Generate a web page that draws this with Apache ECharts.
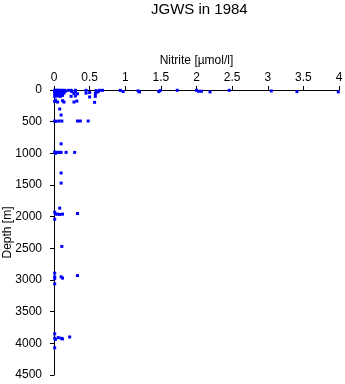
<!DOCTYPE html>
<html>
<head>
<meta charset="utf-8">
<script src="https://cdn.jsdelivr.net/npm/echarts@6/dist/echarts.min.js"></script>
<style>
  html, body { margin: 0; padding: 0; background: #fff; }
  #chart { width: 345px; height: 384px; }
</style>
</head>
<body>
<div id="chart"></div>
<script>
// nitrite [umol/l] and depth [m], paired by index
var nitrite = [
  0.01, 0.03, 0.05, 0.07, 0.09, 0.12, 0.15, 0.2, 0.24, 0.3, 0.45, 0.59, 0.64, 0.68, 0.93, 0.97, 1.18, 1.2, 1.47, 1.49, 1.73, 2.0, 2.03, 2.07, 2.19, 2.46, 3.05, 3.41, 3.99,
  0.01, 0.04, 0.08, 0.12, 0.16, 0.25, 0.3, 0.5, 0.6, 0.62,
  0.01, 0.03, 0.06, 0.1, 0.14, 0.28, 0.33, 0.45, 0.58,
  0.01, 0.02, 0.05, 0.09, 0.12, 0.24, 0.3, 0.5, 0.58,
  0.01, 0.02, 0.05, 0.12, 0.14, 0.28, 0.32, 0.57,
  0.08, 0.1,
  0.01, 0.03, 0.07, 0.11, 0.33, 0.37, 0.48,
  0.1,
  0.01, 0.02, 0.05, 0.08, 0.1, 0.17, 0.29,
  0.1, 0.1, 0.08,
  0.01, 0.02, 0.05, 0.08, 0.12, 0.33,
  0.01, 0.11,
  0.01, 0.01, 0.01, 0.1, 0.12, 0.33, 0.01,
  0.01, 0.01, 0.02, 0.06, 0.1, 0.12, 0.22, 0.01
];
var depth = [
  5, 5, 5, 5, 5, 5, 5, 5, 5, 5, 5, 10, 5, 5, 5, 25, 15, 30, 25, 10, 5, 5, 20, 20, 30, 5, 15, 25, 30,
  25, 30, 25, 30, 20, 25, 30, 40, 35, 25,
  55, 50, 60, 55, 50, 55, 60, 50, 55,
  100, 80, 95, 100, 85, 100, 95, 110, 100,
  180, 160, 190, 170, 190, 190, 175, 195,
  300, 395,
  490, 495, 490, 490, 490, 490, 490,
  850,
  980, 1000, 985, 985, 985, 985, 985,
  1310, 1470, 1865,
  1930, 1960, 1960, 1965, 1960, 1950,
  2040, 2470,
  2890, 2950, 2980, 2950, 2970, 2930, 3060,
  3850, 3920, 3940, 3910, 3920, 3930, 3900, 4070
];
var xTicks = [0, 4, 0.5];
var yTicks = [0, 4500, 500];

var points = nitrite.map(function (v, i) { return [v, depth[i]]; });

var chart = echarts.init(document.getElementById('chart'));
var font = 'Liberation Sans';
chart.setOption({
  animation: false,
  title: {
    text: 'JGWS in 1984',
    left: 146,
    top: -3,
    textStyle: { fontFamily: font, fontSize: 15, fontWeight: 'normal', color: '#000' }
  },
  grid: { left: 54, top: 90, right: 6, bottom: 9, containLabel: false, outerBoundsMode: 'none' },
  xAxis: {
    type: 'value',
    position: 'top',
    min: xTicks[0],
    max: xTicks[1],
    interval: xTicks[2],
    name: 'Nitrite [\u00b5mol/l]',
    nameLocation: 'middle',
    nameGap: 23,
    nameMoveOverlap: false,
    nameTextStyle: { fontFamily: font, fontSize: 12, color: '#000' },
    axisLine: { lineStyle: { color: '#000', width: 1 } },
    axisTick: { length: 4, lineStyle: { color: '#000' } },
    axisLabel: { fontFamily: font, fontSize: 12, color: '#000', margin: 6 },
    splitLine: { show: false }
  },
  yAxis: {
    type: 'value',
    inverse: true,
    min: yTicks[0],
    max: yTicks[1],
    interval: yTicks[2],
    name: 'Depth [m]',
    nameLocation: 'middle',
    nameGap: 40,
    nameMoveOverlap: false,
    nameTextStyle: { fontFamily: font, fontSize: 12, color: '#000' },
    axisLine: { lineStyle: { color: '#000', width: 1 } },
    axisTick: { length: 4, lineStyle: { color: '#000' } },
    axisLabel: {
      fontFamily: font, fontSize: 12, color: '#000', margin: 12,
      formatter: function (v) { return String(v); }
    },
    splitLine: { show: false }
  },
  series: [{
    type: 'scatter',
    data: points,
    symbol: 'rect',
    symbolSize: 3,
    itemStyle: { color: '#0000ff', opacity: 1 }
  }]
});
</script>
</body>
</html>
